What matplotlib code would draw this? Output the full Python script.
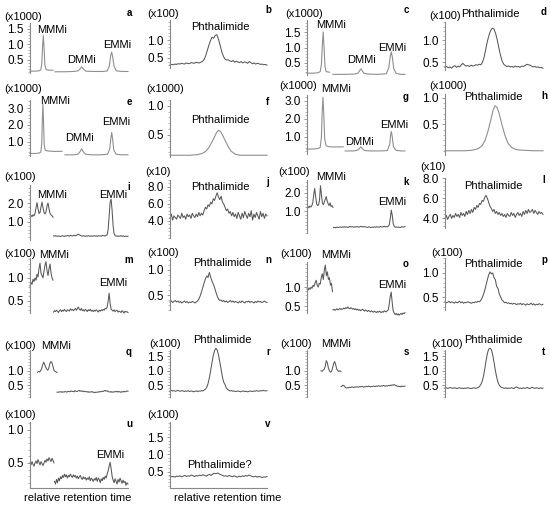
import numpy as np
import matplotlib
matplotlib.use("Agg")
import matplotlib.pyplot as plt
from matplotlib.ticker import MultipleLocator, FixedLocator

plt.rcParams['font.family'] = ['Liberation Sans', 'DejaVu Sans']

# ---------------- data ----------------
# time axis of every panel runs 0..100 (relative retention time)

# a: smooth trace, two windows
a_x1 = [0, 5, 9, 11, 12, 12.8, 13.6, 14.4, 15.2, 16.5, 19, 23.5]
a_y1 = [0.12, 0.12, 0.13, 0.16, 0.35, 0.9, 1.28, 0.85, 0.32, 0.17, 0.15, 0.15]
a_x2 = [25.5, 35, 45, 49, 51, 52.7, 54.5, 57, 65, 75, 79, 81, 82.3, 83.3, 84.3, 85.8, 88, 94, 100]
a_y2 = [0.1, 0.1, 0.11, 0.13, 0.19, 0.26, 0.19, 0.12, 0.11, 0.11, 0.13, 0.3, 0.62, 0.74, 0.6, 0.28, 0.13, 0.11, 0.11]

# b
b_y = [0.30, 0.32, 0.31, 0.33, 0.32, 0.34, 0.33, 0.35, 0.34, 0.33, 0.36, 0.35, 0.34, 0.37, 0.36, 0.35, 0.38, 0.37, 0.36, 0.38,
       0.40, 0.45, 0.55, 0.70, 0.85, 0.98, 1.08, 1.05, 1.13, 1.15, 1.02, 0.85, 0.68, 0.55, 0.47, 0.44,
       0.45, 0.42, 0.40, 0.43, 0.38, 0.41, 0.39, 0.37, 0.40, 0.36, 0.39, 0.38, 0.35, 0.40, 0.37, 0.34, 0.36, 0.33, 0.35, 0.34,
       0.32, 0.33, 0.31, 0.32, 0.30]

# c
c_x1 = [0, 6, 11, 13.5, 14.7, 15.6, 16.5, 17.4, 18.3, 19.5, 23]
c_y1 = [0.17, 0.17, 0.18, 0.22, 0.45, 1.05, 1.5, 1.0, 0.4, 0.22, 0.2]
c_x2 = [26.5, 38, 48, 52, 53.7, 55, 56.3, 58, 62, 72, 81, 83.5, 85, 86, 87, 88.5, 91, 96, 100]
c_y2 = [0.13, 0.13, 0.14, 0.17, 0.25, 0.31, 0.25, 0.17, 0.14, 0.13, 0.15, 0.35, 0.72, 0.86, 0.7, 0.32, 0.16, 0.13, 0.13]

# d
d_y = [0.38, 0.40, 0.37, 0.39, 0.36, 0.40, 0.42, 0.38, 0.41, 0.39, 0.44, 0.47, 0.43, 0.41, 0.42, 0.40, 0.43, 0.41, 0.42, 0.44,
       0.43, 0.45, 0.44,
       0.50, 0.62, 0.80, 0.98, 1.12, 1.22, 1.27, 1.25, 1.15, 1.00, 0.82, 0.65, 0.52, 0.45, 0.42,
       0.40, 0.41, 0.39, 0.40, 0.38, 0.41, 0.39, 0.40, 0.38, 0.41, 0.40, 0.42, 0.45, 0.44, 0.43, 0.41, 0.39, 0.40, 0.38, 0.39,
       0.37, 0.38, 0.36]

# e
e_x1 = [0, 5, 9, 11, 12, 12.6, 13.2, 13.8, 14.5, 15.5, 18, 25, 32.6]
e_y1 = [0.3, 0.3, 0.32, 0.38, 0.9, 2.3, 3.25, 2.2, 0.8, 0.5, 0.45, 0.42, 0.43]
e_x2 = [35.7, 45, 49, 51, 52.7, 54.4, 56.5, 62, 72, 79, 81.3, 82.5, 83.4, 84.3, 85.5, 88, 94, 100]
e_y2 = [0.22, 0.22, 0.26, 0.4, 0.58, 0.4, 0.26, 0.22, 0.22, 0.25, 0.55, 1.2, 1.55, 1.15, 0.5, 0.25, 0.22, 0.22]

# f
f_x = [0, 10, 20, 28, 33, 37, 40, 43, 46, 48, 50, 52, 54, 57, 60, 63, 67, 72, 80, 90, 100]
f_y = [0.15, 0.15, 0.15, 0.16, 0.18, 0.22, 0.28, 0.37, 0.47, 0.54, 0.58, 0.56, 0.5, 0.4, 0.3, 0.22, 0.17, 0.15, 0.15,
       0.15, 0.15]

# g
g_x1 = [0, 6, 11, 13.5, 14.7, 15.5, 16.3, 17.1, 18, 19.5, 23, 30, 37]
g_y1 = [0.32, 0.33, 0.35, 0.42, 1.0, 2.4, 3.2, 2.3, 0.9, 0.5, 0.45, 0.44, 0.45]
g_x2 = [39, 47, 51, 53.3, 55, 56.7, 59, 65, 75, 82, 84.5, 85.3, 86.1, 87, 88.2, 91, 96, 100]
g_y2 = [0.22, 0.22, 0.25, 0.35, 0.45, 0.33, 0.24, 0.22, 0.22, 0.24, 0.6, 1.1, 1.3, 1.0, 0.45, 0.25, 0.22, 0.22]

# h
h_x = [0, 10, 20, 28, 34, 38, 41, 44, 47, 49, 51, 53, 55, 58, 61, 64, 68, 73, 80, 90, 100]
h_y = [0.0, 0.0, 0.0, 0.01, 0.04, 0.1, 0.2, 0.38, 0.6, 0.76, 0.85, 0.82, 0.72, 0.5, 0.3, 0.15, 0.06, 0.02, 0.01, 0.0, 0.0]

# i
i_y1 = [1.30, 1.35, 1.28, 1.38, 1.32, 1.45, 1.75, 2.02, 1.7, 1.45, 1.5, 1.8, 2.05, 1.75, 1.5, 1.42, 1.55, 1.85, 2.0, 1.7,
        1.45, 1.38, 1.33, 1.25]
i_y2 = [0.27, 0.25, 0.28, 0.26, 0.24, 0.27, 0.25, 0.23, 0.26, 0.28, 0.25, 0.24, 0.27, 0.26, 0.29, 0.27, 0.25, 0.3, 0.28, 0.26,
        0.28, 0.3, 0.27, 0.29, 0.33, 0.36, 0.32, 0.3, 0.27, 0.25, 0.28, 0.26, 0.24, 0.27, 0.25, 0.28, 0.26, 0.24, 0.27, 0.25,
        0.26, 0.28, 0.25, 0.27, 0.24, 0.28, 0.26, 0.27, 0.25, 0.29, 0.28, 0.27, 0.26, 0.3, 0.32, 0.6, 1.3, 2.05, 2.2, 1.6,
        0.8, 0.38, 0.28, 0.25, 0.27, 0.24, 0.26, 0.25, 0.28, 0.24, 0.27, 0.25, 0.23, 0.26, 0.24, 0.25]

# j (x10)
j_y = [4.3, 4.8, 4.1, 4.6, 4.4, 4.2, 4.7, 4.5, 4.3, 4.9, 4.4, 4.6, 4.2, 4.8, 4.5, 4.7, 4.3, 4.9, 4.6, 4.4,
       4.8, 4.5, 5.0, 4.6, 4.9, 4.7, 5.2, 5.6, 5.4, 5.9, 5.7, 6.2, 6.0, 6.6, 6.4, 6.9, 7.3, 6.8, 6.5, 6.9,
       6.2, 6.0, 5.6, 5.2, 5.4, 4.9, 5.1, 4.6, 5.0, 4.5, 4.8, 4.3, 5.0, 4.6, 4.2, 4.9, 4.4, 5.1, 4.7, 4.3,
       4.9, 4.5, 5.2, 4.1, 4.8, 4.4, 5.0, 4.6, 4.2, 5.1, 4.5, 4.9, 4.3, 4.8, 4.6]

# k
k_y1 = [1.2, 1.25, 1.18, 1.28, 1.22, 1.3, 1.45, 1.9, 2.25, 1.8, 1.4, 1.3, 1.35, 1.6, 2.4, 1.9, 1.45, 1.35, 1.5, 1.65,
        1.8, 1.55, 1.4, 1.3, 1.45, 1.25, 1.3, 1.2]
k_y2 = [0.08, 0.1, 0.07, 0.09, 0.11, 0.08, 0.1, 0.12, 0.09, 0.11, 0.1, 0.13, 0.1, 0.12, 0.11, 0.09, 0.12, 0.14, 0.11, 0.13,
        0.12, 0.1, 0.13, 0.11, 0.14, 0.12, 0.1, 0.13, 0.15, 0.12, 0.14, 0.11, 0.13, 0.12, 0.1, 0.09, 0.12, 0.11, 0.08, 0.1,
        0.11, 0.09, 0.12, 0.1, 0.13, 0.11, 0.12, 0.1, 0.14, 0.12, 0.11, 0.13, 0.15, 0.12, 0.14, 0.12, 0.16, 0.25, 0.6, 1.05,
        0.75, 0.3, 0.15, 0.1, 0.12, 0.09, 0.11, 0.1, 0.08, 0.11, 0.13, 0.1, 0.12, 0.14]

# l (x10)
l_y = [4.0, 4.3, 3.9, 4.2, 4.4, 4.0, 4.3, 4.1, 4.5, 4.2, 4.4, 4.1, 4.6, 4.3, 4.5, 4.2, 4.7, 4.4, 4.8, 4.5,
       4.9, 4.6, 5.1, 4.9, 5.3, 5.1, 5.5, 5.4, 5.8, 5.7, 6.1, 6.3, 6.0, 5.6, 5.2, 5.0, 4.7, 4.9, 4.5, 4.7,
       4.4, 4.6, 4.3, 4.5, 4.2, 4.4, 4.1, 4.5, 4.3, 4.2, 4.6, 4.3, 4.5, 4.1, 4.4, 4.6, 4.3, 4.5, 4.2, 4.7,
       4.4, 4.8, 4.5, 4.9, 4.6, 4.7, 4.9, 4.5, 4.8, 4.6, 4.4, 4.7, 4.5, 4.6, 4.4]

# m
m_y1 = [0.82, 0.9, 0.86, 0.97, 0.92, 1.0, 0.95, 1.08, 1.02, 1.2, 1.32, 1.1, 1.05, 1.0, 1.15, 1.28, 1.35, 1.15, 1.05, 1.2,
        1.3, 1.1, 1.0, 0.95]
m_y2 = [0.26, 0.29, 0.27, 0.3, 0.28, 0.25, 0.29, 0.31, 0.27, 0.3, 0.28, 0.32, 0.29, 0.27, 0.31, 0.3, 0.28, 0.33, 0.3, 0.32,
        0.29, 0.31, 0.34, 0.3, 0.33, 0.37, 0.32, 0.3, 0.34, 0.29, 0.31, 0.28, 0.32, 0.3, 0.27, 0.31, 0.29, 0.32, 0.28, 0.3,
        0.27, 0.3, 0.28, 0.31, 0.29, 0.26, 0.3, 0.28, 0.31, 0.29, 0.32, 0.3, 0.34, 0.33, 0.37, 0.5, 0.67, 0.45, 0.32, 0.3,
        0.28, 0.31, 0.27, 0.29, 0.3, 0.26, 0.28, 0.27, 0.25, 0.29, 0.27, 0.24, 0.28, 0.26, 0.27, 0.25]

# n
n_y = [0.36, 0.38, 0.35, 0.37, 0.39, 0.36, 0.38, 0.35, 0.37, 0.34, 0.36, 0.38, 0.35, 0.37, 0.34, 0.36, 0.35, 0.37, 0.36, 0.34,
       0.36, 0.38, 0.42, 0.48, 0.56, 0.65, 0.74, 0.82, 0.88, 0.85, 0.95, 0.86, 0.78, 0.72, 0.65, 0.56, 0.48, 0.42, 0.39, 0.4,
       0.37, 0.39, 0.36, 0.38, 0.35, 0.37, 0.39, 0.36, 0.38, 0.35, 0.37, 0.36, 0.34, 0.37, 0.35, 0.38, 0.36, 0.34, 0.37, 0.36,
       0.38, 0.35, 0.37, 0.36, 0.34, 0.37, 0.35, 0.38, 0.36, 0.37, 0.35, 0.36, 0.38, 0.36, 0.35]

# o
o_y1 = [0.95, 0.92, 0.98, 0.94, 1.0, 0.97, 1.05, 1.02, 1.12, 1.18, 1.05, 1.0, 1.1, 1.08, 1.25, 1.35, 1.2, 1.45, 1.58, 1.3,
        1.4, 1.2, 1.25, 1.05, 1.1, 0.88]
o_y2 = [0.4, 0.42, 0.39, 0.41, 0.43, 0.4, 0.42, 0.44, 0.41, 0.43, 0.42, 0.45, 0.43, 0.46, 0.44, 0.48, 0.45, 0.43, 0.46, 0.44,
        0.42, 0.44, 0.41, 0.43, 0.4, 0.42, 0.39, 0.41, 0.38, 0.4, 0.42, 0.39, 0.37, 0.4, 0.38, 0.36, 0.39, 0.37, 0.35, 0.38,
        0.36, 0.34, 0.37, 0.35, 0.33, 0.36, 0.34, 0.37, 0.35, 0.33, 0.36, 0.34, 0.38, 0.36, 0.35, 0.38, 0.4, 0.55, 0.75, 0.87,
        0.6, 0.38, 0.32, 0.28, 0.31, 0.27, 0.3, 0.26, 0.29, 0.31, 0.28, 0.32, 0.3, 0.33]

# p
p_y = [0.4, 0.38, 0.39, 0.41, 0.38, 0.4, 0.39, 0.37, 0.4, 0.38, 0.39, 0.41, 0.38, 0.4, 0.37, 0.39, 0.38, 0.4, 0.39, 0.38,
       0.37, 0.39, 0.38, 0.4, 0.39,
       0.41, 0.4, 0.43, 0.48, 0.55, 0.64, 0.75, 0.86, 0.96, 1.02, 0.98, 1.0, 0.9, 0.86, 0.72, 0.68, 0.56, 0.5, 0.44, 0.41,
       0.38, 0.39, 0.37, 0.38, 0.36, 0.37, 0.35, 0.37, 0.36, 0.34, 0.36, 0.35, 0.37, 0.34, 0.36, 0.35, 0.33, 0.36, 0.34, 0.35,
       0.37, 0.34, 0.36, 0.33, 0.35, 0.34, 0.36, 0.35, 0.33, 0.35]

# q
q_y1 = [0.95, 0.98, 0.96, 1.0, 1.08, 1.2, 1.3, 1.22, 1.12, 1.05, 1.02, 1.1, 1.25, 1.32, 1.28, 1.15, 1.02, 0.98, 0.96, 0.94]
q_y2 = [0.26, 0.25, 0.27, 0.26, 0.28, 0.25, 0.27, 0.26, 0.28, 0.27, 0.26, 0.29, 0.28, 0.27, 0.3, 0.28, 0.29, 0.27, 0.31, 0.29,
        0.28, 0.3, 0.32, 0.29, 0.31, 0.28, 0.3, 0.27, 0.29, 0.28, 0.26, 0.28, 0.25, 0.27, 0.26, 0.28, 0.25, 0.26, 0.24, 0.26,
        0.25, 0.27, 0.26, 0.28, 0.27, 0.29, 0.28, 0.3, 0.32, 0.29, 0.31, 0.28, 0.27, 0.26, 0.28, 0.25, 0.27, 0.26, 0.28, 0.27,
        0.29, 0.26, 0.28, 0.27, 0.25, 0.28, 0.26, 0.29, 0.27, 0.28, 0.3, 0.29]

# r
r_y = [0.3, 0.32, 0.3, 0.31, 0.29, 0.3, 0.32, 0.3, 0.29, 0.31, 0.3, 0.28, 0.3, 0.29, 0.31, 0.28, 0.3, 0.29, 0.27, 0.29,
       0.3, 0.28,
       0.3, 0.29, 0.31, 0.3, 0.33, 0.36, 0.42, 0.55, 0.75, 1.0, 1.28, 1.52, 1.7, 1.78, 1.72, 1.55, 1.3, 1.05, 0.78, 0.6,
       0.52, 0.4, 0.35, 0.32, 0.3, 0.31, 0.29, 0.3, 0.28, 0.29, 0.3, 0.28, 0.27, 0.29, 0.3, 0.28, 0.29, 0.27, 0.28, 0.3,
       0.29, 0.28, 0.3, 0.29, 0.31, 0.3, 0.29, 0.31, 0.3, 0.32, 0.31, 0.3, 0.31]

# s
s_y1 = [1.0, 0.98, 1.02, 1.05, 1.15, 1.35, 1.28, 1.1, 1.0, 0.95, 0.98, 1.1, 1.25, 1.32, 1.2, 1.05, 1.0, 0.98, 1.0, 0.97]
s_y2 = [0.45, 0.47, 0.5, 0.48, 0.44, 0.41, 0.4, 0.42, 0.41, 0.43, 0.42, 0.44, 0.43, 0.42, 0.44, 0.43, 0.45, 0.44, 0.43, 0.45,
        0.44, 0.46, 0.45, 0.43, 0.45, 0.44, 0.46, 0.45, 0.47, 0.45, 0.44, 0.46, 0.45, 0.47, 0.46, 0.45, 0.47, 0.46, 0.48, 0.47,
        0.46, 0.48, 0.47, 0.49, 0.48, 0.46, 0.48, 0.47, 0.49, 0.48, 0.5, 0.49, 0.51, 0.5, 0.52, 0.5, 0.48, 0.46, 0.47, 0.45,
        0.46, 0.44, 0.47, 0.45, 0.46, 0.47]

# t
t_y = [0.4, 0.41, 0.39, 0.4, 0.42, 0.4, 0.39, 0.41, 0.4, 0.38, 0.4, 0.41, 0.39, 0.4, 0.38, 0.4, 0.39, 0.41, 0.4, 0.39,
       0.38, 0.4, 0.41, 0.39,
       0.4, 0.42, 0.45, 0.52, 0.62, 0.8, 1.05, 1.35, 1.6, 1.75, 1.78, 1.74, 1.55, 1.3, 1.02, 0.78, 0.6, 0.5, 0.44, 0.42,
       0.4, 0.39, 0.41, 0.38, 0.4, 0.39, 0.41, 0.4, 0.38, 0.42, 0.44, 0.41, 0.39, 0.4, 0.38, 0.41, 0.39, 0.4, 0.42, 0.4,
       0.38, 0.41, 0.43, 0.4, 0.39, 0.41, 0.4, 0.38, 0.41, 0.39, 0.4]

# u
u_y1 = [0.5, 0.47, 0.52, 0.48, 0.45, 0.5, 0.53, 0.49, 0.55, 0.51, 0.47, 0.52, 0.49, 0.46, 0.5, 0.54, 0.51, 0.56, 0.53, 0.58,
        0.55, 0.52, 0.57, 0.54, 0.5]
u_y2 = [0.22, 0.18, 0.25, 0.2, 0.27, 0.23, 0.29, 0.26, 0.31, 0.28, 0.33, 0.29, 0.32, 0.27, 0.31, 0.29, 0.33, 0.3, 0.28, 0.32,
        0.29, 0.31, 0.27, 0.3, 0.26, 0.29, 0.31, 0.27, 0.25, 0.29, 0.26, 0.28, 0.24, 0.27, 0.25, 0.29, 0.23, 0.27, 0.25, 0.22,
        0.26, 0.24, 0.28, 0.22, 0.27, 0.25, 0.2, 0.26, 0.23, 0.28, 0.25, 0.3, 0.27, 0.33, 0.38, 0.45, 0.51, 0.42, 0.3, 0.24,
        0.2, 0.26, 0.22, 0.18, 0.25, 0.21, 0.27, 0.23, 0.19, 0.24, 0.2, 0.22, 0.16, 0.2, 0.18]

# v
v_y = [0.38, 0.36, 0.37, 0.35, 0.38, 0.37, 0.39, 0.36, 0.38, 0.4, 0.37, 0.39, 0.38, 0.41, 0.39, 0.37, 0.4, 0.38, 0.41, 0.39,
       0.42, 0.4, 0.38, 0.41, 0.43, 0.4, 0.44, 0.46, 0.45, 0.47, 0.44, 0.42, 0.4, 0.38, 0.39, 0.37, 0.4, 0.38, 0.36, 0.39,
       0.37, 0.35, 0.38, 0.36, 0.39, 0.37, 0.4, 0.38, 0.41, 0.39, 0.37, 0.36, 0.38, 0.35, 0.37, 0.36, 0.34, 0.36, 0.35, 0.37]


# ---------------- layout (pixels of a 550 x 509 figure) ----------------
W, H = 550, 509
cols = [(30, 128), (170, 267), (307, 405), (445, 543)]
light = '#8f8f8f'
dark = '#585858'

fig = plt.figure(figsize=(W / 100, H / 100), dpi=100)


def txt(x, y, s, size=8, **kw):
    fig.text(x / W, 1 - y / H, s, ha='center', va='center', fontsize=size, **kw)


def panel(col, top, bottom, ylim, ticks, minor, letter, scale, scale_x, scale_y=None, bottom_axis=False):
    left, right = cols[col]
    ax = fig.add_axes([left / W, 1 - bottom / H, (right - left) / W, (bottom - top) / H])
    ax.set_xlim(0, 100)
    ax.set_ylim(*ylim)
    ax.patch.set_visible(False)
    for side in ['top', 'right']:
        ax.spines[side].set_visible(False)
    ax.spines['bottom'].set_visible(bottom_axis)
    for side in ['left', 'bottom']:
        ax.spines[side].set_color('#888888')
        ax.spines[side].set_linewidth(0.8)
    ax.set_xticks([])
    ax.yaxis.set_major_locator(FixedLocator(ticks))
    ax.yaxis.set_minor_locator(MultipleLocator(minor))
    ax.set_yticklabels(['%.1f' % v for v in ticks])
    ax.tick_params(axis='y', which='major', length=2, width=0.6, color='#888888', pad=2.5, labelsize=8.5)
    ax.tick_params(axis='y', which='minor', length=1.3, width=0.5, color='#999999')
    # panel letter and intensity multiplier
    txt(right + 1, top - 10 if letter in 'abcd' else top + 2, letter, size=7, weight='bold')
    txt(scale_x, top - 6 if scale_y is None else scale_y, scale)
    return ax


def trace(ax, t0, t1, vals, color):
    ax.plot(np.linspace(t0, t1, len(vals)), vals, color=color, lw=0.75, clip_on=False)


def curve(ax, xs, ys, color):
    ax.plot(xs, ys, color=color, lw=0.8, clip_on=False)


# row 1
ax = panel(0, 23, 73, (0.06, 1.69), [0.5, 1.0, 1.5], 0.1, 'a', '(x1000)', 23)
curve(ax, a_x1, a_y1, light)
curve(ax, a_x2, a_y2, light)
txt(52, 30, 'MMMi'); txt(82, 60, 'DMMi'); txt(117, 45, 'EMMi')

ax = panel(1, 20, 68, (0.22, 1.56), [0.5, 1.0], 0.1, 'b', '(x100)', 163)
trace(ax, 0, 100, b_y, dark)
txt(220, 27, 'Phthalimide')

ax = panel(2, 20, 75, (0.11, 1.89), [0.5, 1.0, 1.5], 0.1, 'c', '(x1000)', 304)
curve(ax, c_x1, c_y1, light)
curve(ax, c_x2, c_y2, light)
txt(331, 25, 'MMMi'); txt(361, 60, 'DMMi'); txt(392, 48, 'EMMi')

ax = panel(3, 22, 70, (0.32, 1.41), [0.5, 1.0], 0.1, 'd', '(x100)', 445)
trace(ax, 0, 100, d_y, dark)
txt(490, 14, 'Phthalimide')

# row 2
ax = panel(0, 100, 156, (0.15, 3.48), [1.0, 2.0, 3.0], 0.2, 'e', '(x1000)', 23, scale_y=89)
curve(ax, e_x1, e_y1, light)
curve(ax, e_x2, e_y2, light)
txt(55, 101, 'MMMi'); txt(80, 138, 'DMMi'); txt(116, 122, 'EMMi')

ax = panel(1, 100, 157, (0.12, 1.1), [0.5, 1.0], 0.1, 'f', '(x1000)', 165, scale_y=89)
curve(ax, f_x, f_y, light)
txt(220, 120, 'Phthalimide')

ax = panel(2, 95, 154, (0.05, 3.33), [1.0, 2.0, 3.0], 0.2, 'g', '(x1000)', 298, scale_y=86)
curve(ax, g_x1, g_y1, light)
curve(ax, g_x2, g_y2, light)
txt(336, 89, 'MMMi'); txt(360, 142, 'DMMi'); txt(394, 125, 'EMMi')

ax = panel(3, 94, 155, (-0.08, 1.07), [0.5, 1.0], 0.1, 'h', '(x1000)', 448, scale_y=86)
curve(ax, h_x, h_y, light)
txt(493, 97, 'Phthalimide')

# row 3
ax = panel(0, 185, 240, (0.05, 2.95), [1.0, 2.0], 0.2, 'i', '(x100)', 20, scale_y=177)
trace(ax, 0, 23.5, i_y1, dark)
trace(ax, 24, 100, i_y2, dark)
txt(52, 195, 'MMMi'); txt(113, 195, 'EMMi')

ax = panel(1, 180, 238, (2.0, 8.8), [4.0, 6.0, 8.0], 0.4, 'j', '(x10)', 158, scale_y=172)
trace(ax, 0, 100, j_y, dark)
txt(220, 187, 'Phthalimide')

ax = panel(2, 180, 233, (-0.22, 2.72), [1.0, 2.0], 0.2, 'k', '(x100)', 294, scale_y=172)
trace(ax, 0, 26.5, k_y1, dark)
trace(ax, 27, 100, k_y2, dark)
txt(331, 177, 'MMMi'); txt(392, 202, 'EMMi')

ax = panel(3, 178, 228, (3.05, 8.03), [4.0, 6.0, 8.0], 0.4, 'l', '(x10)', 433, scale_y=167)
trace(ax, 0, 100, l_y, dark)
txt(493, 186, 'Phthalimide')

# row 4
ax = panel(0, 258, 313, (0.24, 1.43), [0.5, 1.0], 0.1, 'm', '(x100)', 20, scale_y=254)
trace(ax, 0, 23.5, m_y1, dark)
trace(ax, 24, 100, m_y2, dark)
txt(54, 255, 'MMMi'); txt(113, 283, 'EMMi')

ax = panel(1, 258, 310, (0.2, 1.24), [0.5, 1.0], 0.1, 'n', '(x100)', 163, scale_y=253)
trace(ax, 0, 100, n_y, dark)
txt(222, 263, 'Phthalimide')

ax = panel(2, 262, 313, (0.32, 1.66), [0.5, 1.0], 0.1, 'o', '(x100)', 296, scale_y=254)
trace(ax, 0, 26, o_y1, dark)
trace(ax, 26.5, 100, o_y2, dark)
txt(336, 255, 'MMMi'); txt(392, 285, 'EMMi')

ax = panel(3, 258, 310, (0.23, 1.31), [0.5, 1.0], 0.1, 'p', '(x100)', 447, scale_y=253)
trace(ax, 0, 100, p_y, dark)
txt(493, 264, 'Phthalimide')

# row 5
ax = panel(0, 350, 397, (0.09, 1.72), [0.5, 1.0], 0.1, 'q', '(x100)', 20, scale_y=346)
trace(ax, 7.7, 27.6, q_y1, dark)
trace(ax, 27.6, 100, q_y2, dark)
txt(56, 346, 'MMMi')

ax = panel(1, 350, 397, (0.09, 1.72), [0.5, 1.0, 1.5], 0.1, 'r', '(x100)', 165, scale_y=344)
trace(ax, 0, 100, r_y, dark)
txt(222, 340, 'Phthalimide')

ax = panel(2, 350, 397, (0.09, 1.72), [0.5, 1.0], 0.1, 's', '(x100)', 296, scale_y=344)
trace(ax, 14.3, 34.7, s_y1, dark)
trace(ax, 34.7, 100, s_y2, dark)
txt(336, 344, 'MMMi')

ax = panel(3, 350, 397, (0.09, 1.72), [0.5, 1.0, 1.5], 0.1, 't', '(x100)', 447, scale_y=344)
trace(ax, 0, 100, t_y, dark)
txt(493, 340, 'Phthalimide')

# row 6
ax = panel(0, 422, 488, (0.12, 1.12), [0.5, 1.0], 0.1, 'u', '(x100)', 20, scale_y=415, bottom_axis=True)
trace(ax, 0, 24.5, u_y1, dark)
trace(ax, 25, 100, u_y2, dark)
txt(110, 455, 'EMMi')
txt(78, 498, 'relative retention time', size=8)

ax = panel(1, 422, 488, (0.04, 1.93), [0.5, 1.0, 1.5], 0.1, 'v', '(x100)', 163, scale_y=415, bottom_axis=True)
trace(ax, 0, 100, v_y, dark)
txt(220, 465, 'Phthalimide?')
txt(228, 498, 'relative retention time', size=8)

fig.savefig('out.png', dpi=100)
